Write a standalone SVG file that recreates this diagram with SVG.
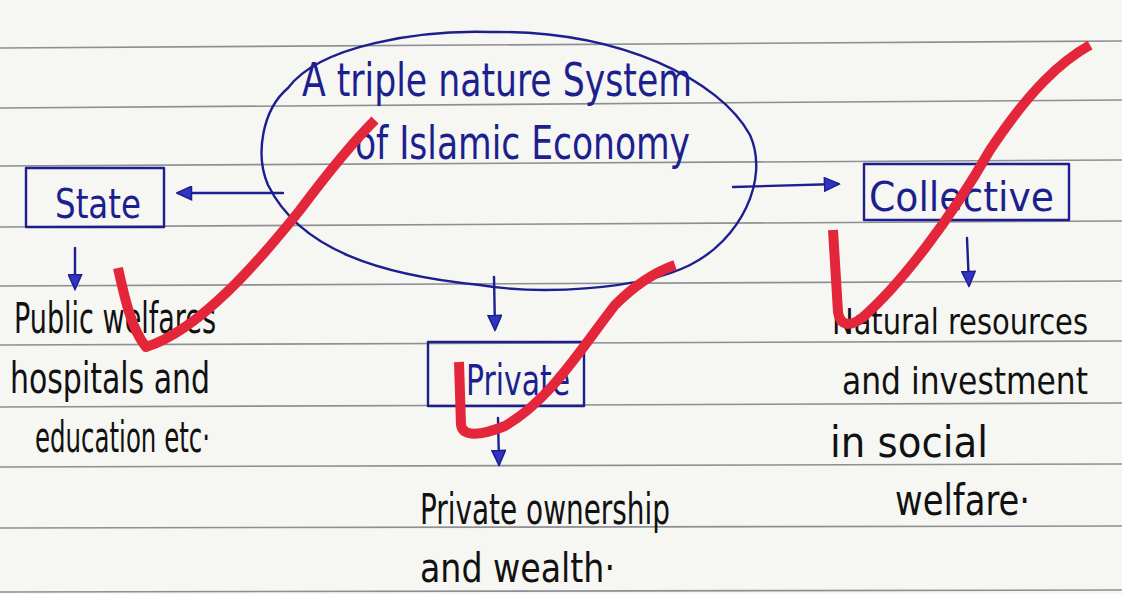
<svg xmlns="http://www.w3.org/2000/svg" width="1122" height="594" viewBox="0 0 1122 594">
<style>
.rule{stroke:#8e8e94;stroke-width:1.6;fill:none}
.ink{stroke:#1d1f8f;stroke-width:2.4;fill:none;stroke-linecap:round;stroke-linejoin:round}
.bt{font-family:"Liberation Sans Narrow","DejaVu Sans Condensed","Liberation Sans",sans-serif;fill:#1d1f8f}
.kt{font-family:"Liberation Sans Narrow","DejaVu Sans Condensed","Liberation Sans",sans-serif;fill:#111}
.tick{stroke:#e3263a;stroke-width:10;fill:none;stroke-linecap:butt;stroke-linejoin:round}
</style>
<defs>
<marker id="ahb" viewBox="0 0 10 10" refX="9" refY="5" markerWidth="17" markerHeight="15" orient="auto" markerUnits="userSpaceOnUse">
<path d="M0,0.5 L10,5 L0,9.5 Z" fill="#3034c0" stroke="#1d1f8f" stroke-width="1"/>
</marker>
</defs>
<rect width="1122" height="594" fill="#f6f6f3"/>
<g id="rules">
<path class="rule" d="M0,48 L1122,41"/>
<path class="rule" d="M0,108 L1122,100"/>
<path class="rule" d="M0,166 L1122,160"/>
<path class="rule" d="M0,227 L1122,221"/>
<path class="rule" d="M0,286 L1122,281"/>
<path class="rule" d="M0,345 L1122,341"/>
<path class="rule" d="M0,407 L1122,403"/>
<path class="rule" d="M0,467 L1122,464"/>
<path class="rule" d="M0,528 L1122,526"/>
<path class="rule" d="M0,592 L1122,590"/>
</g>
<g id="connectors">
<path class="ink" d="M283,193 L178,193" marker-end="url(#ahb)"/>
<path class="ink" d="M733,187 L838,184" marker-end="url(#ahb)"/>
<path class="ink" d="M75,248 L75,288" marker-end="url(#ahb)"/>
<path class="ink" d="M494,277 L495,329" marker-end="url(#ahb)"/>
<path class="ink" d="M498,418 L499,464" marker-end="url(#ahb)"/>
<path class="ink" d="M967,238 L969,285" marker-end="url(#ahb)"/>
</g>
<g id="center">
<path class="ink" d="M288,88 C320,45 420,30 490,32 C620,30 720,80 750,135 C770,180 740,240 690,265 C640,290 540,295 480,285 C380,275 300,250 268,185 C255,155 262,110 288,88 Z"/>
<text class="bt" x="302" y="96" font-size="46" textLength="390" lengthAdjust="spacingAndGlyphs">A  triple nature System</text>
<text class="bt" x="355" y="159" font-size="46" textLength="335" lengthAdjust="spacingAndGlyphs">of  Islamic Economy</text>
</g>
<g id="state">
<rect class="ink" x="26" y="168" width="138" height="59"/>
<text class="bt" x="55" y="218" font-size="40" textLength="86" lengthAdjust="spacingAndGlyphs">State</text>
</g>
<g id="collective">
<rect class="ink" x="864" y="164" width="205" height="56"/>
<text class="bt" x="869" y="211" font-size="40" textLength="185" lengthAdjust="spacingAndGlyphs">Collective</text>
</g>
<g id="private">
<rect class="ink" x="428" y="342" width="156" height="64"/>
<text class="bt" x="466" y="395" font-size="42" textLength="104" lengthAdjust="spacingAndGlyphs">Private</text>
</g>
<g id="state-desc">
<text class="kt" x="14" y="333" font-size="42" textLength="202" lengthAdjust="spacingAndGlyphs">Public welfares</text>
<text class="kt" x="10" y="393" font-size="42" textLength="200" lengthAdjust="spacingAndGlyphs">hospitals and</text>
<text class="kt" x="35" y="452" font-size="42" textLength="175" lengthAdjust="spacingAndGlyphs">education etc·</text>
</g>
<g id="private-desc">
<text class="kt" x="420" y="524" font-size="42" textLength="250" lengthAdjust="spacingAndGlyphs">Private ownership</text>
<text class="kt" x="420" y="582" font-size="40" textLength="195" lengthAdjust="spacingAndGlyphs">and wealth·</text>
</g>
<g id="collective-desc">
<text class="kt" x="832" y="334" font-size="36" textLength="256" lengthAdjust="spacingAndGlyphs">Natural resources</text>
<text class="kt" x="842" y="394" font-size="38" textLength="246" lengthAdjust="spacingAndGlyphs">and  investment</text>
<text class="kt" x="830" y="457" font-size="42" textLength="158" lengthAdjust="spacingAndGlyphs">in  social</text>
<text class="kt" x="895" y="515" font-size="42" textLength="135" lengthAdjust="spacingAndGlyphs">welfare·</text>
</g>
<g id="ticks">
<path class="tick" d="M118,268 C125,300 132,330 146,347 C200,330 260,260 300,210 C330,170 355,140 375,120"/>
<path class="tick" d="M459,362 L461,425 C463,437 480,436 505,426 C550,400 580,350 615,305 C635,285 655,272 675,265"/>
<path class="tick" d="M833,230 L838,312 C840,326 850,327 862,318 C900,285 950,220 990,150 C1030,90 1060,62 1090,45"/>
</g>
</svg>
